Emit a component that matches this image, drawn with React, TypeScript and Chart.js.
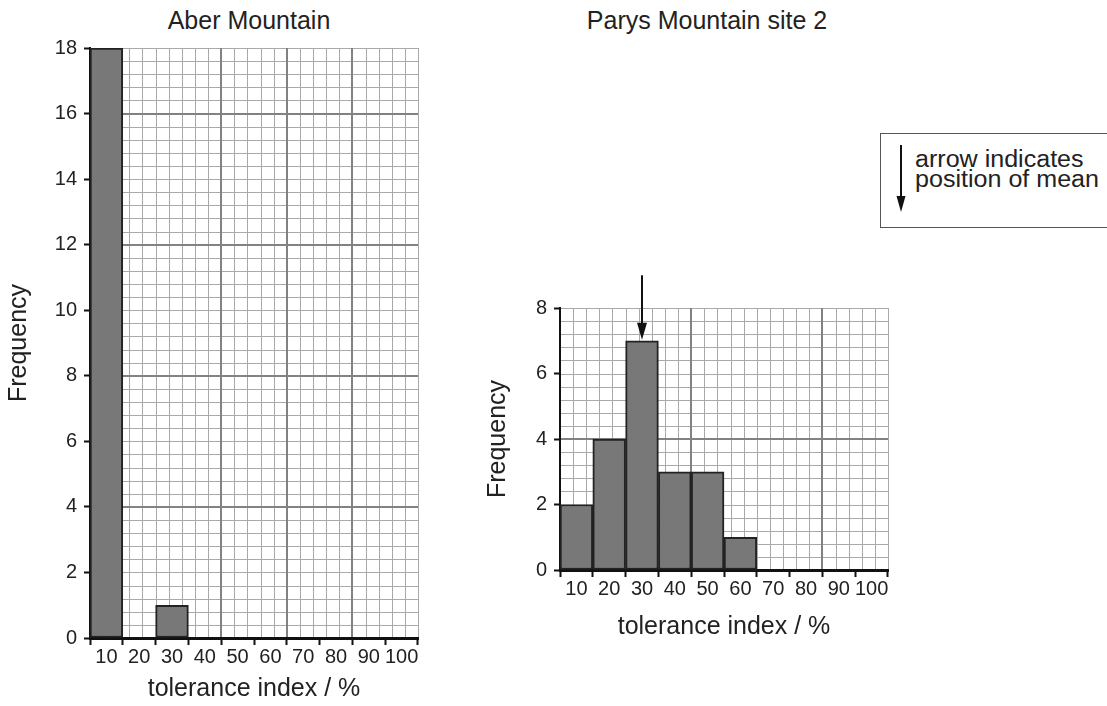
import React, { useEffect, useRef } from 'react';
import { Chart, registerables } from 'chart.js';

Chart.register(...registerables);

// ---- data ----
const binLabels = ['10', '20', '30', '40', '50', '60', '70', '80', '90', '100'];
const aberFrequency = [18, 0, 1, 0, 0, 0, 0, 0, 0, 0];
const parysFrequency = [2, 4, 7, 3, 3, 1, 0, 0, 0, 0];
const aberYMax = 18;
const parysYMax = 8;
const yTickStep = 2;
const parysMeanBin = '30';
const parysMeanArrowFrom = 9;
const parysMeanArrowTo = 7;

const FONT = '"Liberation Sans", Arial, Helvetica, sans-serif';
const TEXT = '#222';

// graph-paper background drawn through the chart's own scales
const graphPaper = {
  id: 'graphPaper',
  beforeDraw(chart: any, _args: any, opts: any) {
    const { ctx, scales } = chart;
    const x = scales.x;
    const y = scales.y;
    const nBins = x.getLabels().length;
    const xStep = opts.xStep;
    const yStep = opts.yStep;
    const nx = Math.round(nBins / xStep);
    const ny = Math.round((y.max - y.min) / yStep);
    const top = y.getPixelForValue(y.max);
    const bottom = y.getPixelForValue(y.min);
    const left = x.getPixelForValue(-0.5);
    const right = x.getPixelForValue(nBins - 0.5);
    ctx.save();
    const vline = (k: number, color: string, w: number) => {
      const px = Math.round(x.getPixelForValue(-0.5 + k * xStep)) + (w % 2 ? 0.5 : 0);
      ctx.strokeStyle = color;
      ctx.lineWidth = w;
      ctx.beginPath();
      ctx.moveTo(px, top);
      ctx.lineTo(px, bottom);
      ctx.stroke();
    };
    const hline = (j: number, color: string, w: number) => {
      const py = Math.round(y.getPixelForValue(y.min + j * yStep)) + (w % 2 ? 0.5 : 0);
      ctx.strokeStyle = color;
      ctx.lineWidth = w;
      ctx.beginPath();
      ctx.moveTo(left, py);
      ctx.lineTo(right, py);
      ctx.stroke();
    };
    for (let k = 0; k <= nx; k++) vline(k, opts.minorColor, 1);
    for (let j = 0; j <= ny; j++) hline(j, opts.minorColor, 1);
    for (const k of opts.majorX) vline(k, opts.majorColor, 2);
    for (let j = opts.majorYEvery; j < ny; j += opts.majorYEvery) hline(j, opts.majorColor, 2);
    ctx.restore();
  },
};

const meanArrow = {
  id: 'meanArrow',
  afterDraw(chart: any, _args: any, opts: any) {
    if (!opts || !opts.label) return;
    const { ctx, scales } = chart;
    const x = scales.x;
    const y = scales.y;
    const px = Math.round(x.getPixelForValue(x.getLabels().indexOf(opts.label)));
    const y1 = y.getPixelForValue(opts.from);
    const y2 = y.getPixelForValue(opts.to) - 1;
    ctx.save();
    ctx.strokeStyle = '#111';
    ctx.fillStyle = '#111';
    ctx.lineWidth = 2;
    ctx.beginPath();
    ctx.moveTo(px, y1);
    ctx.lineTo(px, y2 - 12);
    ctx.stroke();
    ctx.beginPath();
    ctx.moveTo(px - 5, y2 - 17);
    ctx.lineTo(px + 5, y2 - 17);
    ctx.lineTo(px, y2);
    ctx.closePath();
    ctx.fill();
    ctx.restore();
  },
};

function makeConfig(p: {
  data: number[];
  yMax: number;
  majorX: number[];
  padTop: number;
  yTitleTopPad: number;
  xAxisHeight: number;
  xTitleBottomPad: number;
  padRight: number;
  arrow?: any;
}): any {
  return {
    type: 'bar',
    data: {
      labels: binLabels,
      datasets: [
        {
          data: p.data,
          backgroundColor: '#787878',
          borderColor: '#222222',
          borderWidth: 2,
          borderSkipped: false,
          categoryPercentage: 1,
          barPercentage: 1,
        },
      ],
    },
    plugins: p.arrow ? [graphPaper, meanArrow] : [graphPaper],
    options: {
      responsive: false,
      animation: false,
      layout: { padding: { left: 0, right: p.padRight, top: p.padTop, bottom: 0 } },
      plugins: {
        legend: { display: false },
        tooltip: { enabled: false },
        title: { display: false },
        graphPaper: {
          xStep: 0.4,
          yStep: 0.4,
          majorX: p.majorX,
          majorYEvery: 10,
          minorColor: '#a9a9a9',
          majorColor: '#828282',
        },
        meanArrow: p.arrow || {},
      },
      scales: {
        x: {
          type: 'category',
          offset: true,
          grid: {
            offset: true,
            drawOnChartArea: false,
            drawTicks: true,
            tickLength: 7,
            tickWidth: 2,
            tickColor: '#111',
          },
          border: { display: true, color: '#111', width: 3 },
          ticks: {
            autoSkip: false,
            maxRotation: 0,
            minRotation: 0,
            padding: 0,
            color: TEXT,
            font: { family: FONT, size: 20 },
          },
          title: {
            display: true,
            text: 'tolerance index / %',
            color: TEXT,
            font: { family: FONT, size: 25 },
            padding: { top: 0, bottom: p.xTitleBottomPad },
          },
          afterFit: (s: any) => {
            s.height = p.xAxisHeight;
          },
        },
        y: {
          type: 'linear',
          min: 0,
          max: p.yMax,
          grid: {
            drawOnChartArea: false,
            drawTicks: true,
            tickLength: 6,
            tickWidth: 2,
            tickColor: '#111',
          },
          border: { display: true, color: '#111', width: 2 },
          ticks: {
            stepSize: yTickStep,
            padding: 7,
            color: TEXT,
            font: { family: FONT, size: 20 },
          },
          title: {
            display: true,
            text: 'Frequency',
            color: TEXT,
            font: { family: FONT, size: 25 },
            padding: { top: p.yTitleTopPad, bottom: 0 },
          },
          afterFit: (s: any) => {
            s.width = 90;
          },
        },
      },
    },
  };
}

function BarCanvas(props: { config: any; left: number; width: number; height: number }) {
  const ref = useRef<HTMLCanvasElement | null>(null);
  useEffect(() => {
    if (!ref.current) return;
    const chart = new Chart(ref.current, props.config);
    return () => chart.destroy();
  }, []);
  return (
    <canvas
      ref={ref}
      width={props.width}
      height={props.height}
      style={{
        position: 'absolute',
        left: props.left,
        top: 0,
        width: props.width,
        height: props.height,
      }}
    />
  );
}

function Title(props: { text: string; center: number }) {
  return (
    <div
      style={{
        position: 'absolute',
        left: props.center - 200,
        top: 5,
        width: 400,
        textAlign: 'center',
        fontFamily: FONT,
        fontSize: 25,
        lineHeight: '30px',
        color: TEXT,
        whiteSpace: 'nowrap',
      }}
    >
      {props.text}
    </div>
  );
}

export default function App() {
  const aberConfig = makeConfig({
    data: aberFrequency,
    yMax: aberYMax,
    majorX: [10, 15, 20],
    padTop: 48,
    yTitleTopPad: 4,
    xAxisHeight: 68,
    xTitleBottomPad: 2,
    padRight: 20,
  });
  const parysConfig = makeConfig({
    data: parysFrequency,
    yMax: parysYMax,
    majorX: [10, 20],
    padTop: 308,
    yTitleTopPad: 13,
    xAxisHeight: 75,
    xTitleBottomPad: 3,
    padRight: 20,
    arrow: { label: parysMeanBin, from: parysMeanArrowFrom, to: parysMeanArrowTo },
  });

  return (
    <div
      style={{
        position: 'absolute',
        left: 0,
        top: 0,
        width: 1107,
        height: 706,
        overflow: 'hidden',
        background: '#fff',
      }}
    >
      <Title text="Aber Mountain" center={249} />
      <Title text="Parys Mountain site 2" center={707} />
      <BarCanvas config={aberConfig} left={0} width={438} height={706} />
      <BarCanvas config={parysConfig} left={470} width={438} height={645} />
      <div
        style={{
          position: 'absolute',
          left: 880,
          top: 133,
          width: 260,
          height: 95,
          border: '1.5px solid #555',
          background: '#fff',
          boxSizing: 'border-box',
        }}
      >
        <svg
          width={14}
          height={70}
          style={{ position: 'absolute', left: 12.5, top: 10 }}
        >
          <line x1={7} y1={1} x2={7} y2={56} stroke="#111" strokeWidth={2} />
          <polygon points="2.5,52 11.5,52 7,68" fill="#111" />
        </svg>
        <div
          style={{
            position: 'absolute',
            left: 34,
            top: 15,
            fontFamily: FONT,
            fontSize: 23,
            lineHeight: '20px',
            color: TEXT,
            whiteSpace: 'nowrap',
            transform: 'scaleX(1.09)',
            transformOrigin: 'left top',
          }}
        >
          arrow indicates
          <br />
          position of mean
        </div>
      </div>
    </div>
  );
}
